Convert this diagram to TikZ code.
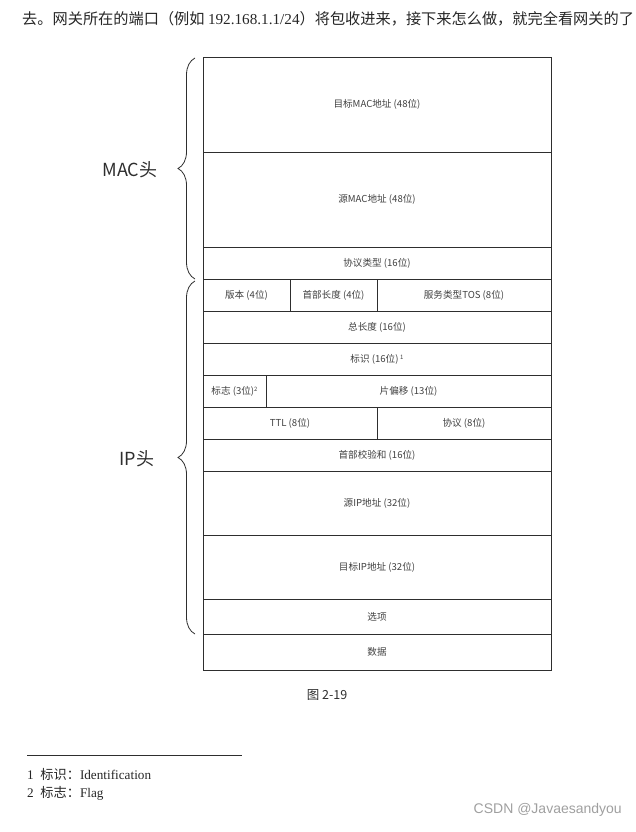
\documentclass[tikz,border=0pt]{standalone}
\usepackage{fontspec}
\setmainfont{Liberation Serif}
\newfontfamily\cjk{Noto Sans CJK SC}
\newfontfamily\wmfont{Liberation Sans}
\usetikzlibrary{decorations.pathreplacing}
\definecolor{inkc}{gray}{0.18}
\definecolor{textc}{gray}{0.25}
\tikzset{
  cell/.style={draw=inkc, line width=0.9pt, inner sep=0pt, outer sep=0pt, font=\cjk\fontsize{9.6}{11}\selectfont, text=textc},
  hbrace/.style={draw=inkc, line width=0.8pt, decorate, decoration={brace, amplitude=17pt, aspect=0.5}},
  biglabel/.style={font=\cjk\fontsize{18}{21}\selectfont, text=inkc},
  fntext/.style={anchor=west, inner sep=0pt, font=\fontsize{13.2}{15}\selectfont, text=black!85},
}
\newcommand\mycell[6]{%
  \pgfmathsetmacro\cw{#4-#2}\pgfmathsetmacro\ch{#5-#3}%
  \node[cell, minimum width=\cw pt, minimum height=\ch pt] (#1) at ({(#2+#4)/2},{(#3+#5)/2}) {#6};}
\begin{document}
\begin{tikzpicture}[x=1pt,y=-1pt]
\useasboundingbox (0,0) rectangle (636,832);
% top sentence
\node[anchor=west, inner sep=0pt, font=\fontsize{15.2}{17}\selectfont, text=black!85] (top) at (22,19)
 {{\cjk 去。网关所在的端口（例如 }192.168.1.1/24{\cjk ）将包收进来，接下来怎么做，就完全看网关的了}};
% cells
\mycell{dmac}{203}{57}{551}{152}{目标MAC地址 (48位)}
\mycell{smac}{203}{152}{551}{247}{源MAC地址 (48位)}
\mycell{ptype}{203}{247}{551}{279}{协议类型 (16位)}
\mycell{ver}{203}{279}{290}{311}{版本 (4位)}
\mycell{hlen}{290}{279}{377}{311}{首部长度 (4位)}
\mycell{tos}{377}{279}{551}{311}{服务类型TOS (8位)}
\mycell{tlen}{203}{311}{551}{343}{总长度 (16位)}
\mycell{ident}{203}{343}{551}{375}{标识 (16位)\,\raisebox{0.6ex}{\fontsize{6}{7}\selectfont 1}}
\mycell{flag}{203}{375}{266}{407}{标志 (3位)\raisebox{0.6ex}{\fontsize{6}{7}\selectfont 2}}
\mycell{frag}{266}{375}{551}{407}{片偏移 (13位)}
\mycell{ttl}{203}{407}{377}{439}{TTL (8位)}
\mycell{proto}{377}{407}{551}{439}{协议 (8位)}
\mycell{csum}{203}{439}{551}{471}{首部校验和 (16位)}
\mycell{sip}{203}{471}{551}{535}{源IP地址 (32位)}
\mycell{dip}{203}{535}{551}{599}{目标IP地址 (32位)}
\mycell{opt}{203}{599}{551}{634}{选项}
\mycell{data}{203}{634}{551}{670}{数据}
% braces
\coordinate (macb) at (195,279);
\coordinate (mact) at (195,58);
\coordinate (ipb) at (195,634);
\coordinate (ipt) at (195,281);
\draw[hbrace] (macb) -- (mact);
\draw[hbrace] (ipb) -- (ipt);
\node[biglabel] (maclabel) at (130,170) {MAC头};
\node[biglabel] (iplabel) at (137,459) {IP头};
% caption
\node[font=\cjk\fontsize{12.5}{14}\selectfont, text=inkc] (cap) at (327,695) {图 2-19};
% footnotes
\coordinate (fnl) at (27,755);
\coordinate (fnr) at (242,755);
\draw[inkc, line width=0.7pt] (fnl) -- (fnr);
\node[fntext] (fn1) at (27,774) {1\ \ {\cjk 标识：}Identification};
\node[fntext] (fn2) at (27,793) {2\ \ {\cjk 标志：}Flag};
% watermark
\node[anchor=east, inner sep=0pt, font=\wmfont\fontsize{14}{16}\selectfont, text=gray!75] (wm) at (622,810) {CSDN @Javaesandyou};
\end{tikzpicture}
\end{document}
